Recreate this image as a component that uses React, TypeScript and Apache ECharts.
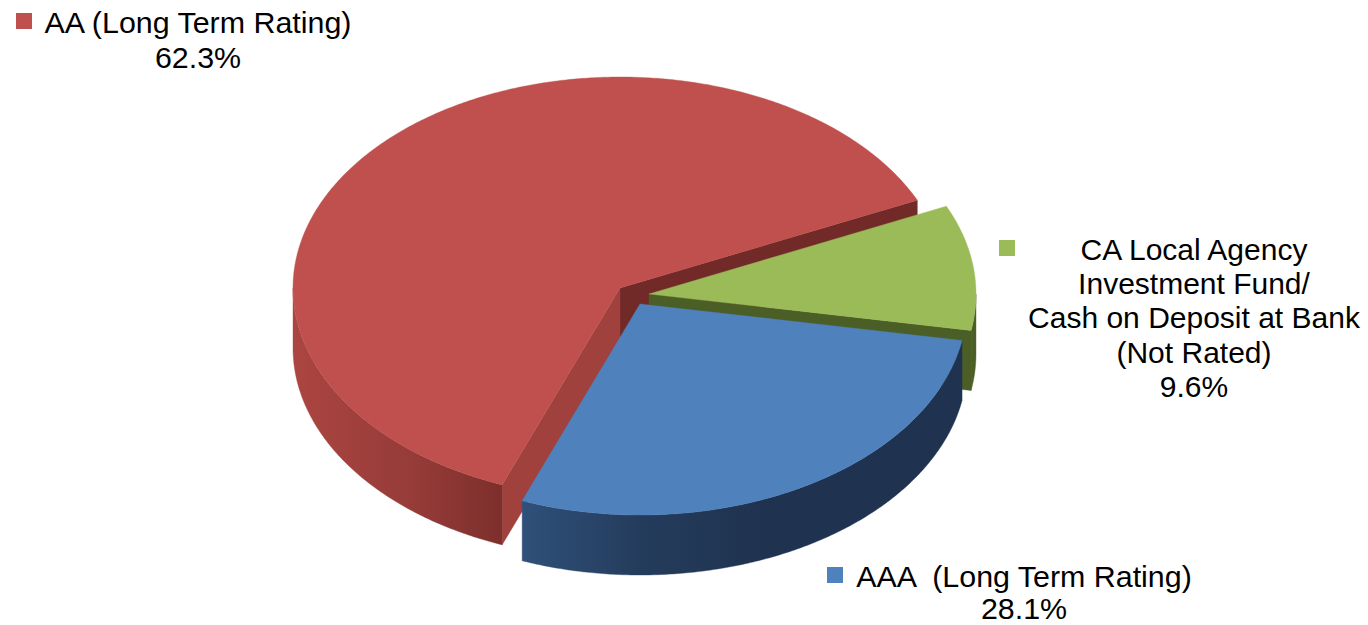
import React, { useEffect, useRef } from "react";
import * as echarts from "echarts";

const categories = ["AA (Long Term Rating)", "AAA  (Long Term Rating)", "CA Local Agency\nInvestment Fund/\nCash on Deposit at Bank\n(Not Rated)"];
const shares = [62.3, 28.1, 9.6];

const START_ANGLE = 24.6;
const RX = 327;
const RY = 211;
const DEPTH = 60;

const sliceStyles = [
  {
    cx: 620, cy: 288, z2: 1, top: "#C0504D",
    rim: { x0: 293, x1: 502, stops: [[0, "#AB4541"], [0.55, "#973C39"], [1, "#7D2F2C"]] },
    startWall: "#722A28", endWall: "#A0413E",
  },
  {
    cx: 640, cy: 304, z2: 3, top: "#4F81BD",
    rim: { x0: 523, x1: 760, stops: [[0, "#2F5079"], [0.5, "#243C5C"], [1, "#1F3350"]] },
    startWall: null, endWall: null,
  },
  {
    cx: 649, cy: 294, z2: 2, top: "#9BBB59",
    rim: { x0: 960, x1: 976, stops: [[0, "#4B5E26"], [1, "#4B5E26"]] },
    startWall: "#4B5E26", endWall: null,
  },
];

const labelStyles = [
  { square: [16, 13], textX: 198, textY: 22, gap: 34.5, size: 30.4 },
  { square: [827, 567], textX: 1024, textY: 576, gap: 32, size: 30.4 },
  { square: [999, 240], textX: 1194, textY: 249.5, gap: 34.2, size: 30 },
];

function point(cx: number, cy: number, deg: number, dy = 0): number[] {
  const a = (deg * Math.PI) / 180;
  return [cx + RX * Math.cos(a), cy - RY * Math.sin(a) + dy];
}

function arc(cx: number, cy: number, from: number, to: number, dy = 0): number[][] {
  const pts: number[][] = [];
  const n = Math.max(2, Math.ceil(Math.abs(to - from) * 2));
  for (let i = 0; i <= n; i++) pts.push(point(cx, cy, from + ((to - from) * i) / n, dy));
  return pts;
}

function renderSlice(params: any, api: any) {
  const i = params.dataIndex;
  const s = sliceStyles[i];
  const total = shares.reduce((a, b) => a + b, 0);
  const before = shares.slice(0, i).reduce((a, b) => a + b, 0);
  const a0 = START_ANGLE + (before / total) * 360;
  const a1 = a0 + (api.value(0) / total) * 360;
  const children: any[] = [];
  const add = (points: number[][], fill: any, z2: number) =>
    children.push({
      type: "polygon",
      z2,
      shape: { points },
      style: { fill, stroke: fill, lineWidth: 0.4 },
    });
  const apex = [s.cx, s.cy];
  const apexLow = [s.cx, s.cy + DEPTH];
  if (s.startWall) {
    add([apex, point(s.cx, s.cy, a0), point(s.cx, s.cy, a0, DEPTH), apexLow], s.startWall, s.z2);
  }
  if (s.endWall) {
    add([apex, point(s.cx, s.cy, a1), point(s.cx, s.cy, a1, DEPTH), apexLow], s.endWall, s.z2);
  }
  const r0 = Math.max(a0, 180);
  const r1 = Math.min(a1, 360);
  if (r1 > r0) {
    const fill = new echarts.graphic.LinearGradient(
      s.rim.x0, 0, s.rim.x1, 0,
      s.rim.stops.map(([offset, color]) => ({ offset: offset as number, color: color as string })),
      true
    );
    add([...arc(s.cx, s.cy, r0, r1), ...arc(s.cx, s.cy, r1, r0, DEPTH)], fill, s.z2);
  }
  add([apex, ...arc(s.cx, s.cy, a0, a1)], s.top, s.z2 + 0.5);
  return { type: "group", children };
}

const graphicElements = categories.flatMap((name, i) => {
  const l = labelStyles[i];
  const lines = [...name.split("\n"), `${shares[i].toFixed(1)}%`];
  return [
    {
      type: "rect",
      silent: true,
      shape: { x: l.square[0], y: l.square[1], width: 16, height: 16 },
      style: { fill: sliceStyles[i].top },
    },
    ...lines.map((text, k) => ({
      type: "text",
      silent: true,
      x: l.textX,
      y: l.textY + k * l.gap,
      style: {
        text,
        font: `${l.size}px "Liberation Sans", Arial, sans-serif`,
        fill: "#000000",
        align: "center",
        verticalAlign: "middle",
      },
    })),
  ];
});

export default function App() {
  const ref = useRef<HTMLDivElement>(null);
  useEffect(() => {
    document.body.style.margin = "0";
    document.body.style.background = "#ffffff";
    const chart = echarts.init(ref.current!, undefined, { renderer: "svg" });
    chart.setOption({
      animation: false,
      backgroundColor: "#ffffff",
      tooltip: { show: false },
      graphic: { elements: graphicElements },
      series: [
        {
          type: "custom",
          coordinateSystem: "none",
          silent: true,
          renderItem: renderSlice,
          data: shares.map((v, i) => ({ name: categories[i], value: [v] })),
        },
      ],
    });
    return () => chart.dispose();
  }, []);
  return <div ref={ref} style={{ width: 1368, height: 625 }} />;
}
